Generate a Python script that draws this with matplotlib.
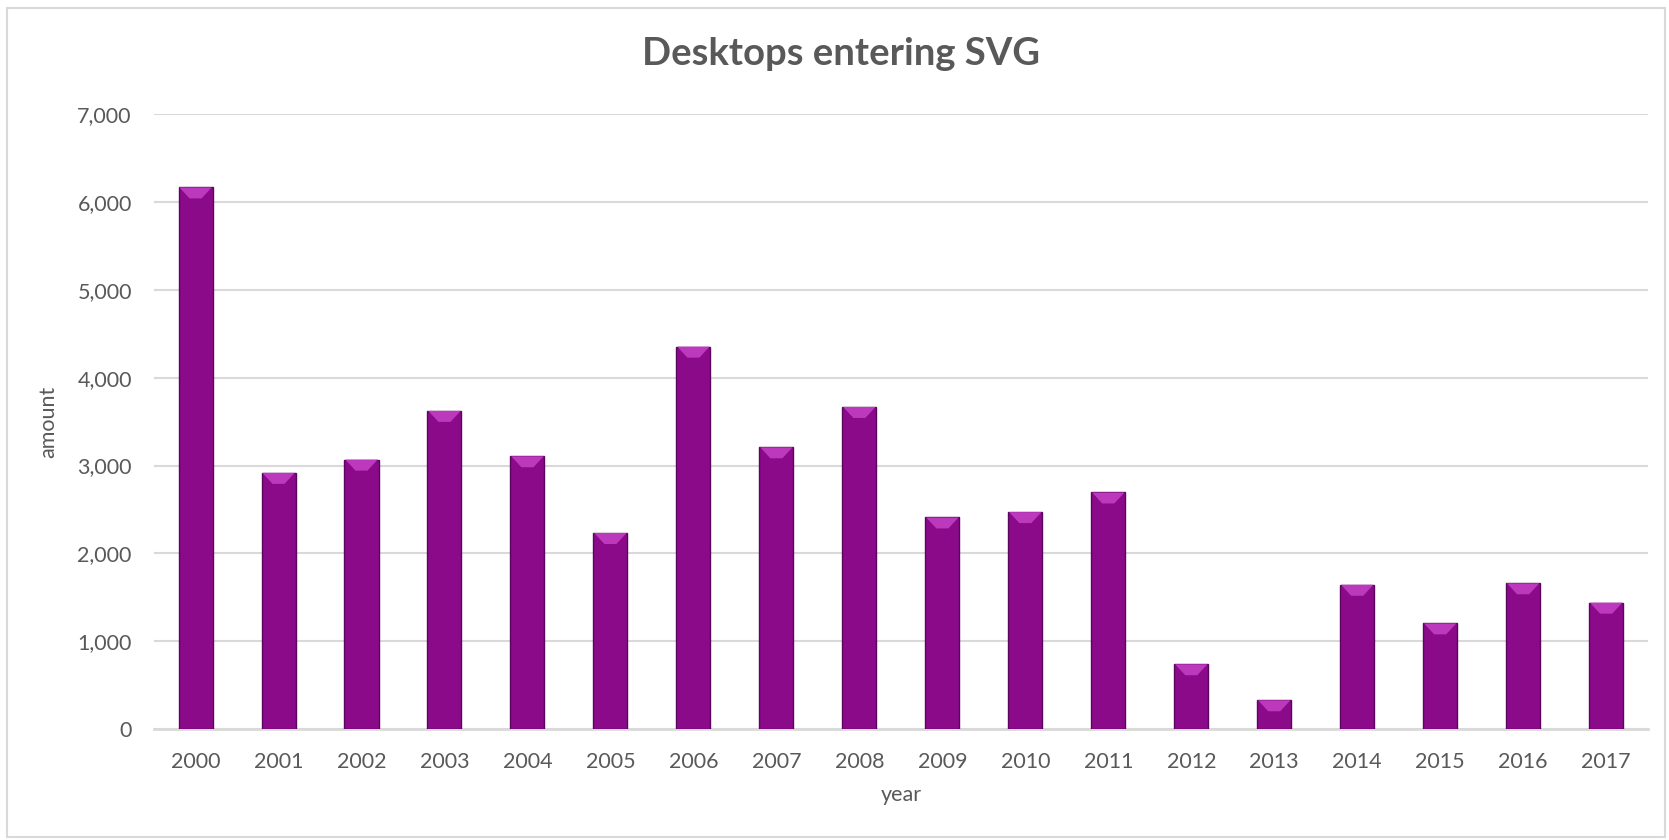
import matplotlib.pyplot as plt
from matplotlib.patches import Polygon, Rectangle
import numpy as np

# data
years = [str(y) for y in range(2000, 2018)]
amounts = [6165, 2917, 3068, 3622, 3106, 2233, 4353, 3208, 3667,
           2410, 2471, 2694, 740, 330, 1644, 1205, 1661, 1440]
yticks = [0, 1000, 2000, 3000, 4000, 5000, 6000, 7000]

plt.rcParams['font.family'] = ['Lato', 'DejaVu Sans']
text_color = "#595959"
grid_color = "#D9D9D9"
bar_color = "#8A0A8A"

fig = plt.figure(figsize=(16.69, 8.4), dpi=100)
ax = fig.add_axes([0.0923, 0.1318, 0.8949, 0.7325])

x = np.arange(len(years))
width = 0.41
ax.bar(x, amounts, width=width, color=bar_color, edgecolor="#5C0560",
       linewidth=1.0, zorder=3)

# bevel on top of each bar (sizes in pixels converted to data units)
px_y = 7000 / 615.3
px_x = 1 / 82.95
bh = 11 * px_y
bd = 11 * px_x
for xi, v in zip(x, amounts):
    l, r = xi - width / 2, xi + width / 2
    top = Polygon([(l + 0.01, v), (r - 0.01, v), (r - bd, v - bh), (l + bd, v - bh)],
                  closed=True, facecolor="#BC38BC", edgecolor="none", zorder=4)
    ax.add_patch(top)

ax.set_xlim(-0.5, len(years) - 0.5)
ax.set_ylim(0, 7000)
ax.set_yticks(yticks)
ax.set_yticklabels([f"{t:,}" for t in yticks])
ax.set_xticks(x)
ax.set_xticklabels(years)

ax.grid(axis="y", color=grid_color, linewidth=1.5, zorder=0)
for s in ["top", "right", "left"]:
    ax.spines[s].set_visible(False)
ax.spines["bottom"].set_color(grid_color)
ax.spines["bottom"].set_linewidth(2)
ax.tick_params(axis="both", length=0, labelsize=15.5, colors=text_color, pad=16)

ax.set_xlabel("year", fontsize=15.5, color=text_color, labelpad=10)
ax.set_ylabel("amount", fontsize=15.5, color=text_color, labelpad=14)
fig.text(0.504, 0.936, "Desktops entering SVG", ha="center", va="center",
         fontsize=27.5, fontweight="bold", color=text_color)

# chart border
fig.patches.append(Rectangle((7 / 1669, 3 / 840), 1658 / 1669, 829 / 840,
                             transform=fig.transFigure, fill=False,
                             edgecolor=grid_color, linewidth=1.5))

fig.savefig("out.png", dpi=100)
